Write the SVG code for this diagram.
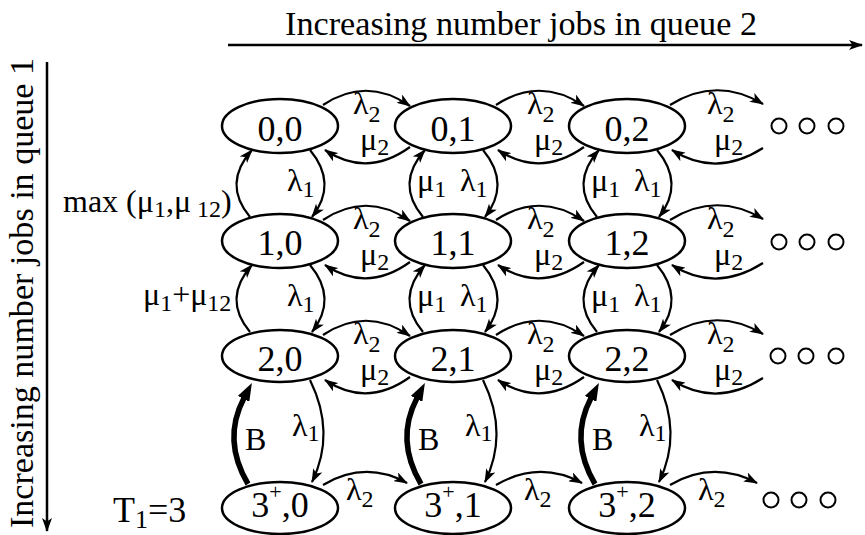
<svg xmlns="http://www.w3.org/2000/svg" width="865" height="535" viewBox="0 0 865 535" font-family="'Liberation Serif', 'Times New Roman', serif">
<defs>
<marker id="ah" viewBox="0 0 14 10" refX="13" refY="5" markerWidth="14" markerHeight="10" markerUnits="userSpaceOnUse" orient="auto"><path d="M0,0 L14,5 L0,10 L3.5,5 z" fill="#000" stroke="none"/></marker>
<marker id="bh" viewBox="0 0 18 13" refX="1" refY="6.5" markerWidth="18" markerHeight="13" markerUnits="userSpaceOnUse" orient="auto"><path d="M0,0 L18,6.5 L0,13 z" fill="#000" stroke="none"/></marker>
</defs>

<g id="axes">
<text x="285" y="35" font-size="34" textLength="472" lengthAdjust="spacingAndGlyphs">Increasing number jobs in queue 2</text>
<line x1="228" y1="45" x2="862" y2="45" stroke="#000" stroke-width="2.5" marker-end="url(#ah)"/>
<text transform="translate(33,528) rotate(-90)" font-size="34" textLength="470" lengthAdjust="spacingAndGlyphs">Increasing number jobs in queue 1</text>
<line x1="47" y1="62" x2="47" y2="531" stroke="#000" stroke-width="2.5" marker-end="url(#ah)"/>
<text x="113" y="522" font-size="36">T<tspan font-size="26" dy="6">1</tspan><tspan dy="-6">=3</tspan></text>
</g>

<g id="connectors" fill="none" stroke="#000" stroke-width="2.2" marker-end="url(#ah)">
<path d="M323,105 Q366.5,76 410,106"/>
<path d="M410,147 Q367,178 325,150"/>
<path d="M496,105 Q540,76 584,106"/>
<path d="M584,147 Q540,178 498,150"/>
<path d="M670,105 Q716,76 763,104"/>
<path d="M763,148 Q716,178 672,150"/>
<path d="M323,220 Q366.5,191 410,221"/>
<path d="M410,262 Q367,293 325,265"/>
<path d="M496,220 Q540,191 584,221"/>
<path d="M584,262 Q540,293 498,265"/>
<path d="M670,220 Q716,191 763,219"/>
<path d="M763,263 Q716,293 672,265"/>
<path d="M323,335 Q366.5,306 410,336"/>
<path d="M410,377 Q367,408 325,380"/>
<path d="M496,335 Q540,306 584,336"/>
<path d="M584,377 Q540,408 498,380"/>
<path d="M670,335 Q716,306 763,334"/>
<path d="M763,378 Q716,408 672,380"/>
<path d="M323,485 Q365,460 407,483"/>
<path d="M496,485 Q539,460 582,483"/>
<path d="M670,485 Q713,460 757,483"/>
<path d="M250,217 Q222,183.5 252,150"/>
<path d="M310,150 Q338,183.5 312,217"/>
<path d="M423,217 Q395,183.5 425,150"/>
<path d="M483,150 Q511,183.5 485,217"/>
<path d="M597,217 Q569,183.5 599,150"/>
<path d="M657,150 Q685,183.5 659,217"/>
<path d="M250,332 Q222,298.5 252,265"/>
<path d="M310,265 Q338,298.5 312,332"/>
<path d="M423,332 Q395,298.5 425,265"/>
<path d="M483,265 Q511,298.5 485,332"/>
<path d="M597,332 Q569,298.5 599,265"/>
<path d="M657,265 Q685,298.5 659,332"/>
<path d="M310,380 Q336,433 312,482"/>
<path d="M483,380 Q509,433 485,482"/>
<path d="M657,380 Q683,433 659,482"/>
<path d="M248,484 Q222,440 244,398" stroke-width="5.5" marker-end="url(#bh)"/>
<path d="M421,484 Q395,440 417,398" stroke-width="5.5" marker-end="url(#bh)"/>
<path d="M595,484 Q569,440 591,398" stroke-width="5.5" marker-end="url(#bh)"/>
</g>

<g id="edge-labels" font-size="32" fill="#000">
<text x="353" y="114">λ<tspan font-size="24" dy="8">2</tspan></text>
<text x="360" y="150">μ<tspan font-size="24" dy="5">2</tspan></text>
<text x="527" y="114">λ<tspan font-size="24" dy="8">2</tspan></text>
<text x="534" y="150">μ<tspan font-size="24" dy="5">2</tspan></text>
<text x="707" y="114">λ<tspan font-size="24" dy="8">2</tspan></text>
<text x="714" y="150">μ<tspan font-size="24" dy="5">2</tspan></text>

<text x="353" y="229">λ<tspan font-size="24" dy="8">2</tspan></text>
<text x="360" y="265">μ<tspan font-size="24" dy="5">2</tspan></text>
<text x="527" y="229">λ<tspan font-size="24" dy="8">2</tspan></text>
<text x="534" y="265">μ<tspan font-size="24" dy="5">2</tspan></text>
<text x="707" y="229">λ<tspan font-size="24" dy="8">2</tspan></text>
<text x="714" y="265">μ<tspan font-size="24" dy="5">2</tspan></text>

<text x="353" y="344">λ<tspan font-size="24" dy="8">2</tspan></text>
<text x="360" y="380">μ<tspan font-size="24" dy="5">2</tspan></text>
<text x="527" y="344">λ<tspan font-size="24" dy="8">2</tspan></text>
<text x="534" y="380">μ<tspan font-size="24" dy="5">2</tspan></text>
<text x="707" y="344">λ<tspan font-size="24" dy="8">2</tspan></text>
<text x="714" y="380">μ<tspan font-size="24" dy="5">2</tspan></text>

<text x="346" y="500">λ<tspan font-size="24" dy="7">2</tspan></text>
<text x="524" y="500">λ<tspan font-size="24" dy="7">2</tspan></text>
<text x="698" y="500">λ<tspan font-size="24" dy="7">2</tspan></text>

<text x="63" y="212">max (μ<tspan font-size="24" dy="5">1</tspan><tspan dy="-5">,μ</tspan><tspan font-size="24" dy="5"> 12</tspan><tspan dy="-5">)</tspan></text>
<text x="287" y="191">λ<tspan font-size="24" dy="6">1</tspan></text>
<text x="417" y="191">μ<tspan font-size="24" dy="6">1</tspan></text>
<text x="460" y="191">λ<tspan font-size="24" dy="6">1</tspan></text>
<text x="591" y="191">μ<tspan font-size="24" dy="6">1</tspan></text>
<text x="634" y="191">λ<tspan font-size="24" dy="6">1</tspan></text>

<text x="143" y="305">μ<tspan font-size="24" dy="6">1</tspan><tspan dy="-6">+μ</tspan><tspan font-size="24" dy="6">12</tspan></text>
<text x="287" y="306">λ<tspan font-size="24" dy="6">1</tspan></text>
<text x="417" y="306">μ<tspan font-size="24" dy="6">1</tspan></text>
<text x="460" y="306">λ<tspan font-size="24" dy="6">1</tspan></text>
<text x="591" y="306">μ<tspan font-size="24" dy="6">1</tspan></text>
<text x="634" y="306">λ<tspan font-size="24" dy="6">1</tspan></text>

<text x="292" y="436">λ<tspan font-size="24" dy="5">1</tspan></text>
<text x="465" y="436">λ<tspan font-size="24" dy="5">1</tspan></text>
<text x="639" y="436">λ<tspan font-size="24" dy="5">1</tspan></text>
<text x="245" y="450">B</text>
<text x="418" y="450">B</text>
<text x="592" y="450">B</text>
</g>

<g id="nodes" fill="#fff" stroke="#000" stroke-width="2.5">
<g id="n00"><ellipse cx="280" cy="126" rx="58" ry="27"/><text font-size="36" text-anchor="middle" fill="#000" stroke="none" x="280" y="141">0,0</text></g>
<g id="n01"><ellipse cx="453" cy="126" rx="58" ry="27"/><text font-size="36" text-anchor="middle" fill="#000" stroke="none" x="453" y="141">0,1</text></g>
<g id="n02"><ellipse cx="627" cy="126" rx="58" ry="27"/><text font-size="36" text-anchor="middle" fill="#000" stroke="none" x="627" y="141">0,2</text></g>
<g id="n10"><ellipse cx="280" cy="241" rx="58" ry="27"/><text font-size="36" text-anchor="middle" fill="#000" stroke="none" x="280" y="255">1,0</text></g>
<g id="n11"><ellipse cx="453" cy="241" rx="58" ry="27"/><text font-size="36" text-anchor="middle" fill="#000" stroke="none" x="453" y="255">1,1</text></g>
<g id="n12"><ellipse cx="627" cy="241" rx="58" ry="27"/><text font-size="36" text-anchor="middle" fill="#000" stroke="none" x="627" y="255">1,2</text></g>
<g id="n20"><ellipse cx="280" cy="356" rx="58" ry="26"/><text font-size="36" text-anchor="middle" fill="#000" stroke="none" x="280" y="371">2,0</text></g>
<g id="n21"><ellipse cx="453" cy="356" rx="58" ry="26"/><text font-size="36" text-anchor="middle" fill="#000" stroke="none" x="453" y="371">2,1</text></g>
<g id="n22"><ellipse cx="627" cy="356" rx="58" ry="26"/><text font-size="36" text-anchor="middle" fill="#000" stroke="none" x="627" y="371">2,2</text></g>
<g id="n30"><ellipse cx="280" cy="508" rx="58" ry="26"/><text font-size="36" text-anchor="middle" fill="#000" stroke="none" x="280" y="517">3<tspan font-size="22" dy="-18">+</tspan><tspan dy="18">,0</tspan></text></g>
<g id="n31"><ellipse cx="453" cy="508" rx="58" ry="26"/><text font-size="36" text-anchor="middle" fill="#000" stroke="none" x="453" y="517">3<tspan font-size="22" dy="-18">+</tspan><tspan dy="18">,1</tspan></text></g>
<g id="n32"><ellipse cx="627" cy="508" rx="58" ry="26"/><text font-size="36" text-anchor="middle" fill="#000" stroke="none" x="627" y="517">3<tspan font-size="22" dy="-18">+</tspan><tspan dy="18">,2</tspan></text></g>
</g>

<g id="ellipsis" fill="none" stroke="#000" stroke-width="2">
<circle cx="779" cy="126" r="7.5"/><circle cx="807" cy="126" r="7.5"/><circle cx="836" cy="126" r="7.5"/>
<circle cx="779" cy="242" r="7.5"/><circle cx="807" cy="242" r="7.5"/><circle cx="836" cy="242" r="7.5"/>
<circle cx="778" cy="356" r="7.5"/><circle cx="806" cy="356" r="7.5"/><circle cx="836" cy="356" r="7.5"/>
<circle cx="771" cy="500" r="7.5"/><circle cx="799" cy="500" r="7.5"/><circle cx="828" cy="500" r="7.5"/>
</g>
</svg>
